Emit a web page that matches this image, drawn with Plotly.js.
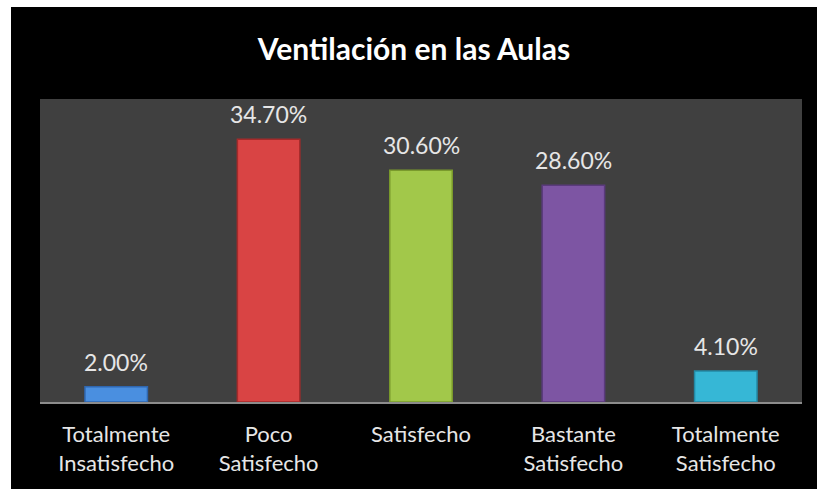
<!DOCTYPE html>
<html>
<head>
<meta charset="utf-8">
<script src="https://cdn.plot.ly/plotly-3.0.1.min.js"></script>
<style>
  html, body { margin: 0; padding: 0; background: #ffffff; }
  #chart { position: absolute; left: 11px; top: 7px; width: 806px; height: 482px; }
</style>
</head>
<body>
<div id="chart"></div>
<script>
const categories = ["Totalmente<br>Insatisfecho", "Poco<br>Satisfecho", "Satisfecho", "Bastante<br>Satisfecho", "Totalmente<br>Satisfecho"];
const values = [2.0, 34.7, 30.6, 28.6, 4.1];
const labels = ["2.00%", "34.70%", "30.60%", "28.60%", "4.10%"];
const colors = ["#4a8fe0", "#d94444", "#a2c84a", "#7d55a3", "#36b7d6"];
const edgeColors = ["#2f67b0", "#a52a2a", "#7a9a2c", "#5a3a7c", "#2389a5"];

const trace = {
  type: "bar",
  x: categories,
  y: values,
  marker: { color: colors, line: { color: edgeColors, width: 1.5 } },
  hoverinfo: "skip"
};

const annotations = categories.map((c, i) => ({
  x: c, y: values[i], xref: "x", yref: "y",
  text: labels[i], showarrow: false,
  yanchor: "middle", yshift: 25,
  font: { family: "Lato, 'Open Sans', sans-serif", size: 23, color: "#e6e6e6" }
}));

const layout = {
  width: 806, height: 482,
  paper_bgcolor: "#000000",
  plot_bgcolor: "#404040",
  margin: { l: 29, r: 15, t: 92, b: 87 },
  title: {
    text: "<b>Ventilación en las Aulas</b>",
    font: { family: "Lato, 'Open Sans', sans-serif", size: 30, color: "#ffffff" },
    x: 0.5, xanchor: "center",
    y: 0.911, yref: "container", yanchor: "middle"
  },
  bargap: 0.59,
  showlegend: false,
  xaxis: {
    showline: true, linecolor: "#8c8c8c", linewidth: 2,
    ticks: "", showgrid: false, fixedrange: true,
    ticklabelstandoff: 12,
    tickfont: { family: "Lato, 'Open Sans', sans-serif", size: 22, color: "#e6e6e6" }
  },
  yaxis: {
    range: [0, 40], visible: false, showgrid: false, zeroline: false, fixedrange: true
  },
  annotations: annotations
};

Plotly.newPlot("chart", [trace], layout, { displayModeBar: false, staticPlot: true });
</script>
</body>
</html>
